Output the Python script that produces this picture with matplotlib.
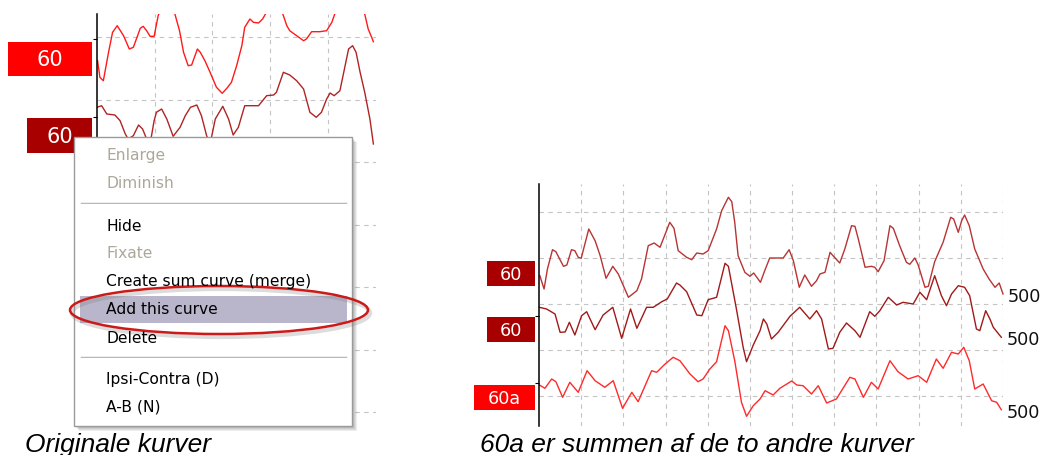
import matplotlib
matplotlib.use("Agg")
import matplotlib.pyplot as plt
from matplotlib.patches import Rectangle, Ellipse
import numpy as np

W, H = 1044, 456

# --- left screenshot: original curves (time in ms, amplitude in arbitrary units)
left_t1 = [0.01, 0.05, 0.11, 0.20, 0.27, 0.35, 0.46, 0.56, 0.63, 0.75, 0.80, 0.86, 0.92, 0.99,
           1.06, 1.14, 1.21, 1.28, 1.35, 1.43, 1.50, 1.58, 1.64, 1.74, 1.79, 1.87, 1.96, 2.07,
           2.17, 2.25, 2.33, 2.42, 2.51, 2.56, 2.65, 2.71, 2.80, 2.87, 2.93, 3.00, 3.07, 3.14,
           3.22, 3.29, 3.34, 3.46, 3.58, 3.63, 3.72, 3.86, 3.98, 4.07, 4.12, 4.25, 4.38, 4.52,
           4.64, 4.70, 4.76, 4.79]
left_a1 = [-21.7, -38.3, -41.7, -13.3, 6.7, 13.3, 3.3, -10, -8.3, 10.7, 12.7, 8.3, 2.7, 2.7,
           23.3, 35, 40, 35, 25, 8.3, -13.3, -26.7, -26, -10, -13.3, -21.7, -33.3, -48.3,
           -54.3, -49.3, -43.3, -26.7, -6.7, 11.7, 20, 16.7, 16, 20, 26, 35, 38, 34,
           25, 13.3, 8.3, 3.3, -1.7, 0, 7.3, 7.3, 8.3, 16.7, 25, 40, 48, 40,
           25, 10, 1.7, -2.7]
left_t2 = [0.00, 0.08, 0.17, 0.31, 0.40, 0.49, 0.54, 0.63, 0.72, 0.79, 0.86, 0.92, 0.99, 1.03,
           1.12, 1.21, 1.32, 1.44, 1.53, 1.62, 1.73, 1.81, 1.90, 1.96, 2.05, 2.18, 2.28, 2.36,
           2.45, 2.56, 2.71, 2.80, 2.94, 3.06, 3.11, 3.23, 3.34, 3.46, 3.58, 3.69, 3.80, 3.89,
           3.98, 4.04, 4.11, 4.21, 4.30, 4.36, 4.43, 4.49, 4.56, 4.64, 4.73, 4.79]
left_a2 = [9.7, 11.3, 3, 2, -3.7, -17, -22, -18.7, -8, -12, -22, -27, -3.7, 4.7,
           8, -2, -19.3, -10.3, 1.3, 9.7, 12, 1.3, -18.7, -27, -2, 10.7, -2, -18,
           -10.3, 11.3, 11.3, 11.3, 21.3, 22, 24.7, 44.7, 42, 36.3, 28, 4.7, -0.3, 4.7,
           18, 24, 21.3, 26.3, 51.3, 68, 71.3, 64.7, 44.7, 24.7, -2, -27]
left_labels = ["60", "60"]

# --- right screenshot: two curves and their sum (60a)
right_t1 = [0.02, 0.12, 0.20, 0.32, 0.40, 0.58, 0.66, 0.77, 0.85, 0.93, 1.00, 1.18, 1.33, 1.45,
            1.59, 1.75, 1.88, 2.12, 2.32, 2.43, 2.59, 2.73, 2.87, 3.10, 3.20, 3.30, 3.50, 3.62,
            3.74, 3.89, 4.01, 4.21, 4.33, 4.49, 4.57, 4.64, 4.72, 4.88, 5.00, 5.09, 5.25, 5.36,
            5.47, 5.79, 5.93, 6.03, 6.17, 6.30, 6.46, 6.58, 6.66, 6.78, 6.90, 6.97, 7.13, 7.25,
            7.41, 7.49, 7.57, 7.73, 7.88, 7.96, 8.04, 8.18, 8.32, 8.40, 8.55, 8.71, 8.79, 8.91,
            8.99, 9.15, 9.23, 9.38, 9.58, 9.76, 9.83, 9.94, 10.02, 10.09, 10.20, 10.33, 10.53,
            10.67, 10.81, 10.91, 11.00]
right_a1 = [-17.7, -31, -11, 8.3, 6.3, -8.3, -7, 8.3, 7.3, 0.7, -0.3, 29, 17.3, 2.3,
            -20.3, -8.3, -16, -39.3, -32.7, -21, 12.3, 15, 10.7, 35.7, 29.7, 7.3, 0.7, -1.7,
            5, 4, 7.3, 29, 47.3, 60.7, 56.3, 35.7, 2.3, -14.3, -18.3, -15, -24.3, -11.7,
            0, 0, 8.3, -2.7, -29.3, -17, -28.3, -22.7, -16, -14.3, 5.7, 2.3, -5, 9,
            32.3, 31.7, 19, -9.3, -8.3, -9.3, -13.7, -2.7, 32.3, 29.7, 12.3, -4.3, -6.3, 0,
            -7, -29.3, -28.3, -3.7, 15.7, 40.7, 39, 25.7, 37.3, 43, 32.3, 9, -11,
            -21, -29.3, -25, -36]
right_t2 = [0.01, 0.18, 0.38, 0.50, 0.62, 0.72, 0.85, 1.01, 1.13, 1.33, 1.52, 1.75, 1.96, 2.17,
            2.32, 2.55, 2.71, 2.91, 3.04, 3.26, 3.34, 3.50, 3.74, 3.86, 4.01, 4.21, 4.41, 4.49,
            4.68, 4.84, 4.92, 5.08, 5.24, 5.32, 5.40, 5.51, 5.67, 5.95, 6.18, 6.42, 6.58, 6.70,
            6.86, 6.97, 7.13, 7.29, 7.49, 7.61, 7.84, 7.96, 8.08, 8.28, 8.48, 8.63, 8.87, 9.03,
            9.19, 9.38, 9.54, 9.66, 9.78, 9.94, 10.09, 10.21, 10.37, 10.45, 10.59, 10.69, 10.77,
            10.96]
right_a2 = [8.7, 7, 2, -16.3, -16, -6.3, -19, 0.3, 4.3, -13.7, 1, 8.7, -22.3, 7,
            -12.3, 8.7, 8.7, 14.3, 17, 33, 31, 24.3, 1, 0.3, 16.3, 18.7, 52.7, 49.7,
            7, -31.3, -45.7, -29, -14.7, -3, -8, -23, -16.3, -0.3, 8.7, -3, 5.3, -3,
            -33, -32.3, -16.3, -7, -14.7, -21.3, 4.3, -0.3, 5.3, 18.7, 11, 13.7, 12, 23.7,
            16.3, 40.3, 20.3, 10.3, 22, 30.3, 28.7, 20.3, -13, -14.7, 5.3, -3, -11.3,
            -21.3]
right_t3 = [0.01, 0.14, 0.30, 0.40, 0.56, 0.73, 0.93, 1.14, 1.33, 1.56, 1.76, 1.98, 2.20, 2.35,
            2.67, 2.79, 2.99, 3.18, 3.34, 3.58, 3.77, 3.89, 4.05, 4.21, 4.41, 4.49, 4.64, 4.80,
            4.92, 5.08, 5.24, 5.36, 5.55, 5.71, 5.99, 6.11, 6.26, 6.46, 6.62, 6.82, 7.05, 7.37,
            7.49, 7.69, 7.88, 8.04, 8.32, 8.51, 8.75, 8.99, 9.19, 9.42, 9.58, 9.78, 9.94, 10.07,
            10.20, 10.33, 10.53, 10.73, 10.85, 10.96]
right_a3 = [-2, -5.3, 4, 1.3, -14.3, 0.7, -9.3, 12.3, 2.3, -4.3, 2.3, -25.3, -9.3, -18.7,
            12.3, 10.7, 19, 25.7, 22.3, 9, 1.3, 4, 14, 21.3, 57.3, 52.3, 22.3, -19.3,
            -33.3, -22.7, -16, -7.7, -12, -5.3, 2, -2, -2.7, -11, -2.7, -20, -16, 5.7,
            4, -14.3, 0.7, -6, 22.3, 11.3, 4, 7.3, 0.7, 24, 14.7, 30.7, 29, 35.7,
            22.3, -6, -1, -17.7, -19.3, -26.7]
right_labels = ["60", "60", "60a"]
right_end_labels = ["500", "500", "500"]

menu_items = ["Enlarge", "Diminish", "-", "Hide", "Fixate", "Create sum curve (merge)",
              "Add this curve", "Delete", "-", "Ipsi-Contra (D)", "A-B (N)"]
menu_enabled = [False, False, None, True, False, True, True, True, None, True, True]

BRIGHT = "#ff0000"
DARK = "#a80000"

fig = plt.figure(figsize=(W / 100, H / 100), dpi=100)
fig.patch.set_facecolor("white")


def px_axes(x0, y0, x1, y1):
    return fig.add_axes([x0 / W, 1 - y1 / H, (x1 - x0) / W, (y1 - y0) / H])


def style_panel(ax, xgrid, ygrid, bases):
    ax.set_xticks(xgrid)
    ax.set_yticks(ygrid)
    ax.set_yticks(bases, minor=True)
    ax.grid(True, which="major", color="#c4c4c4", ls=(0, (4, 4)), lw=0.8)
    ax.tick_params(which="major", length=0, labelleft=False, labelbottom=False)
    ax.tick_params(axis="y", which="minor", length=3, width=0.8, color="k")
    for s in ["top", "right", "bottom"]:
        ax.spines[s].set_visible(False)
    ax.spines["left"].set_linewidth(1.1)
    ax.patch.set_alpha(0)


# left panel (zoomed view behind the menu)
axl = px_axes(97, 15, 376, 427)
axl.set_xlim(0, 279 / 57.7)
axl.set_ylim(0, 412)
left_base = [387, 309]
style_panel(axl, np.arange(1, 5), 389 - 62.5 * np.arange(0, 7), left_base)
axl.plot(left_t1, np.array(left_a1) + left_base[0], color="#ff1a1a", lw=1.0)
axl.plot(left_t2, np.array(left_a2) + left_base[1], color="#b02424", lw=1.0)

# right panel
axr = px_axes(539, 185, 1003, 427)
axr.set_xlim(0, 11)
axr.set_ylim(0, 242)
right_base = [168, 110, 43]
style_panel(axr, np.arange(1, 12), right_base[0] + 46 * np.arange(-3, 2), right_base)
right_cols = ["#b83434", "#a01a1a", "#ff2a2a"]
for t, a, b, c, lab in zip([right_t1, right_t2, right_t3], [right_a1, right_a2, right_a3],
                           right_base, right_cols, right_end_labels):
    y = np.array(a) + b
    axr.plot(t, y, color=c, lw=1.0, clip_on=False)
    axr.annotate(lab, (t[-1], y[-1]), xytext=(5, -2), textcoords="offset pixels",
                 ha="left", va="center", fontsize=12.7, family="DejaVu Sans", color="#111111")

# overlay in pixel coordinates for labels, context menu and captions
ov = fig.add_axes([0, 0, 1, 1])
ov.set_xlim(0, W)
ov.set_ylim(H, 0)
ov.axis("off")
ov.patch.set_alpha(0)
ov.set_zorder(10)


def tag(x0, x1, y0, h, text, color, size):
    ov.add_patch(Rectangle((x0, y0), x1 - x0, h, facecolor=color, edgecolor="none"))
    ov.text((x0 + x1) / 2, y0 + h / 2 + 0.5, text, color="white", ha="center", va="center",
            fontsize=size, family="DejaVu Sans")


# left tags
tag(8, 92, 43, 34, left_labels[0], BRIGHT, 15)
tag(27, 92, 119, 35, left_labels[1], DARK, 15)
# right tags
tag(487, 535, 262, 25, right_labels[0], DARK, 12.7)
tag(487, 535, 318, 25, right_labels[1], DARK, 12.7)
tag(474, 535, 386, 25, right_labels[2], BRIGHT, 12.7)

# context menu
mx0, my0, mx1, my1 = 74, 138, 352, 427
for k in range(1, 6):
    ov.add_patch(Rectangle((mx0 + k, my0 + k), mx1 - mx0, my1 - my0,
                           facecolor="black", alpha=0.07, lw=0))
ov.add_patch(Rectangle((mx0, my0), mx1 - mx0, my1 - my0, facecolor="white",
                       edgecolor="#9a9a9a", lw=1.0))
item_y = [156, 183.5, 204, 227, 254, 281.5, 310, 338.5, 358, 380, 407]
for lab, en, y in zip(menu_items, menu_enabled, item_y):
    if lab == "-":
        ov.plot([81, 346], [y, y], color="#aca899", lw=1.0)
        ov.plot([81, 346], [y + 1, y + 1], color="white", lw=1.0)
        continue
    if lab == "Add this curve":
        ov.add_patch(Rectangle((80, 297), 267, 27, facecolor="#b9b6cb", edgecolor="none"))
    ov.text(106, y, lab, ha="left", va="center", fontsize=11.2, family="DejaVu Sans",
            color="black" if en else "#aca899")

# red ring around "Add this curve"
ov.add_patch(Ellipse((221, 314), 298, 48, fill=False, edgecolor="#777777", lw=3.0, alpha=0.25))
ov.add_patch(Ellipse((219, 311), 298, 48, fill=False, edgecolor="#cc1a1a", lw=1.8))

# captions
ov.text(25, 452, "Originale kurver", fontsize=19, style="italic",
        family="Liberation Sans", va="baseline", ha="left", color="black")
ov.text(480, 452, "60a er summen af de to andre kurver", fontsize=19, style="italic",
        family="Liberation Sans", va="baseline", ha="left", color="black")

fig.savefig("out.png", dpi=100)
